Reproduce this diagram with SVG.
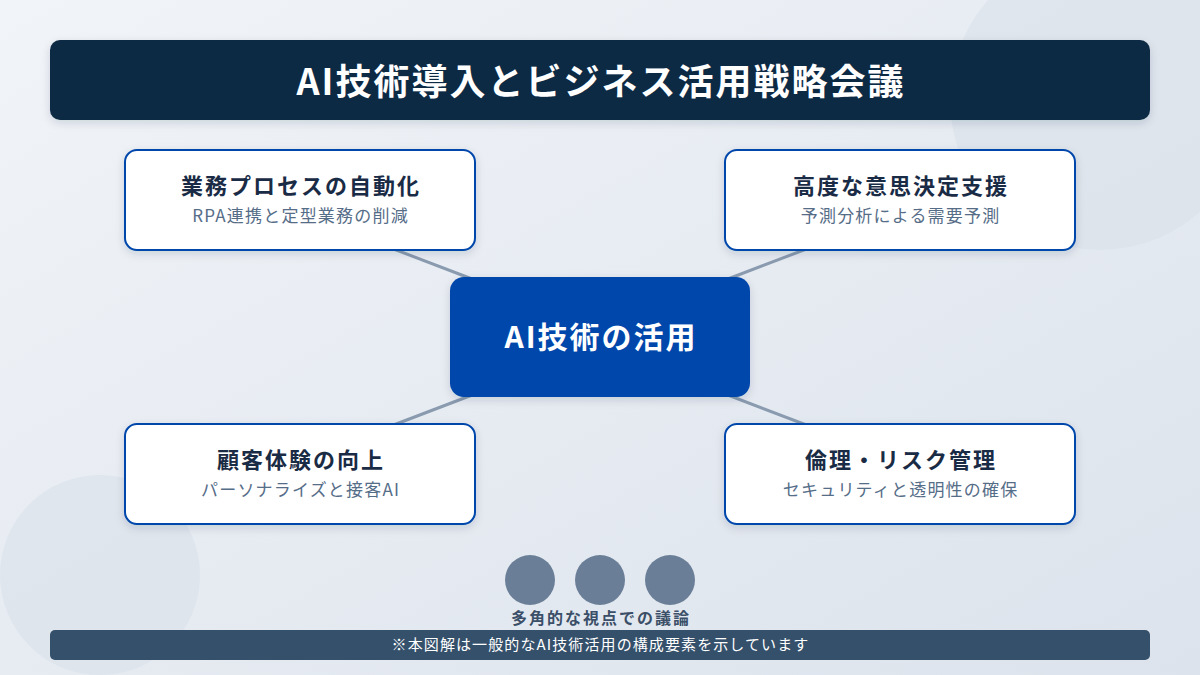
<svg xmlns="http://www.w3.org/2000/svg" width="1200" height="675" viewBox="0 0 1200 675">
<defs>
<linearGradient id="bg" x1="0" y1="0" x2="1" y2="1">
<stop offset="0" stop-color="#f1f4f8"/>
<stop offset="1" stop-color="#dce3ec"/>
</linearGradient>
<filter id="sh" x="-10%" y="-20%" width="120%" height="150%">
<feDropShadow dx="0" dy="3" stdDeviation="4" flood-color="#1a2b45" flood-opacity="0.15"/>
</filter>
<style>
.card{fill:#ffffff;stroke:#0047ab;stroke-width:2;filter:url(#sh)}
.ttl{font-family:"Noto Sans CJK JP","Noto Sans",sans-serif;font-weight:700;font-size:22px;letter-spacing:2px;fill:#1a2b45;text-anchor:middle}
.sub{font-family:"Noto Sans CJK JP","Noto Sans",sans-serif;font-size:17px;letter-spacing:1.2px;fill:#566d88;text-anchor:middle}
.conn{stroke:#8a9bb0;stroke-width:3;fill:none}
.dot{fill:#6a7f97}
</style>
</defs>
<rect width="1200" height="675" fill="url(#bg)"/>
<circle cx="1100" cy="100" r="150" fill="#d9e1ea" opacity="0.6"/>
<circle cx="100" cy="575" r="100" fill="#d9e1ea" opacity="0.6"/>

<g id="title">
<rect x="50" y="40" width="1100" height="80" rx="10" fill="#0f2a44" filter="url(#sh)"/>
<text x="601" y="95" font-family="'Noto Sans CJK JP','Noto Sans',sans-serif" font-weight="700" font-size="36" letter-spacing="2" fill="#ffffff" text-anchor="middle">AI技術導入とビジネス活用戦略会議</text>
</g>

<g id="connectors">
<line class="conn" x1="370" y1="240" x2="480" y2="282"/>
<line class="conn" x1="830" y1="240" x2="720" y2="282"/>
<line class="conn" x1="370" y1="434" x2="480" y2="392"/>
<line class="conn" x1="830" y1="434" x2="720" y2="392"/>
</g>

<g id="center">
<rect x="450" y="277" width="300" height="120" rx="14" fill="#0047ab" filter="url(#sh)"/>
<text x="601" y="348" font-family="'Noto Sans CJK JP','Noto Sans',sans-serif" font-weight="700" font-size="30" letter-spacing="2" fill="#ffffff" text-anchor="middle">AI技術の活用</text>
</g>

<g id="node-tl">
<rect class="card" x="125" y="150" width="350" height="100" rx="12"/>
<text class="ttl" x="301" y="194">業務プロセスの自動化</text>
<text class="sub" x="300.6" y="222">RPA連携と定型業務の削減</text>
</g>
<g id="node-tr">
<rect class="card" x="725" y="150" width="350" height="100" rx="12"/>
<text class="ttl" x="901" y="194">高度な意思決定支援</text>
<text class="sub" x="900.6" y="222">予測分析による需要予測</text>
</g>
<g id="node-bl">
<rect class="card" x="125" y="424" width="350" height="100" rx="12"/>
<text class="ttl" x="301" y="468">顧客体験の向上</text>
<text class="sub" x="300.6" y="496">パーソナライズと接客AI</text>
</g>
<g id="node-br">
<rect class="card" x="725" y="424" width="350" height="100" rx="12"/>
<text class="ttl" x="901" y="468">倫理・リスク管理</text>
<text class="sub" x="900.6" y="496">セキュリティと透明性の確保</text>
</g>

<g id="discussion">
<circle class="dot" cx="530" cy="580" r="25"/>
<circle class="dot" cx="600" cy="580" r="25"/>
<circle class="dot" cx="670" cy="580" r="25"/>
<text x="601" y="624" font-family="'Noto Sans CJK JP','Noto Sans',sans-serif" font-weight="700" font-size="16" letter-spacing="2" fill="#3b4f68" text-anchor="middle">多角的な視点での議論</text>
</g>

<g id="footer">
<rect x="50" y="630" width="1100" height="30" rx="5" fill="#34506b"/>
<text x="600.5" y="650" font-family="'Noto Sans CJK JP','Noto Sans',sans-serif" font-size="15" letter-spacing="1.1" fill="#ffffff" text-anchor="middle">※本図解は一般的なAI技術活用の構成要素を示しています</text>
</g>
</svg>
